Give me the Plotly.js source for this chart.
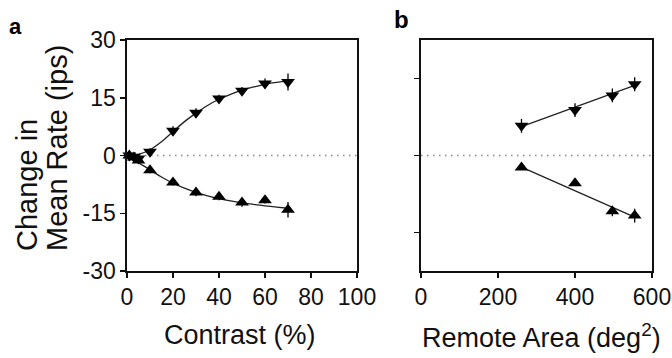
<!DOCTYPE html>
<html>
<head>
<meta charset="utf-8">
<script src="https://cdn.plot.ly/plotly-3.0.1.min.js"></script>
<style>html,body{margin:0;padding:0;background:#fff;}#chart{width:672px;height:358px;}</style>
</head>
<body>
<div id="chart"></div>
<script>
// Panel a: contrast (%)
const contrast = [1, 3, 5, 10, 20, 30, 40, 50, 60, 70];
const aIncrease = [0, -0.3, -0.8, 1.0, 6.4, 11.1, 14.8, 16.8, 18.7, 19.1];
const aIncreaseErr = [0.5, 0.5, 0.6, 0.9, 1.2, 1.2, 1.0, 1.0, 1.3, 2.2];
const aDecrease = [0, -0.5, -1.3, -3.8, -7.0, -9.6, -10.7, -12.2, -11.6, -14.1];
const aDecreaseErr = [0.4, 0.5, 0.6, 0.8, 0.8, 1.0, 0.9, 1.1, 0.9, 2.0];
const fitContrast = [0, 5, 10, 15, 20, 25, 30, 35, 40, 45, 50, 55, 60, 65, 70];
const fitIncrease = [0, 0.3, 1.5, 3.6, 6.2, 8.8, 11.0, 13.0, 14.6, 15.9, 17.0, 17.8, 18.5, 19.0, 19.3];
const fitDecrease = [0, -1.9, -3.7, -5.6, -7.2, -8.5, -9.6, -10.5, -11.2, -11.8, -12.3, -12.7, -13.1, -13.4, -13.7];

// Panel b: remote area (deg^2)
const area = [261, 400, 497, 555];
const bIncrease = [7.7, 11.8, 15.6, 18.5];
const bIncreaseErr = [1.8, 1.8, 1.8, 1.8];
const bDecrease = [-3.1, -7.2, -14.5, -15.6];
const bDecreaseErr = [0.6, 0.6, 1.3, 1.8];
const fitArea = [261, 555];
const bFitIncrease = [7.5, 18.2];
const bFitDecrease = [-3.0, -16.0];

const xTicksA = [0, 20, 40, 60, 80, 100];
const yTicksA = [-30, -15, 0, 15, 30];
const xTicksB = [0, 200, 400, 600];
const yTicksB = [-20, 0, 20];

const W = 672, H = 358;
const px = v => v / W, py = v => 1 - v / H;

function pts(x, y, err, sym, xa, ya) {
  return {x: x, y: y, type: 'scatter', mode: 'markers', xaxis: xa, yaxis: ya,
    marker: {symbol: sym, size: 12, color: '#000'},
    error_y: {type: 'data', array: err, visible: true, color: '#000', thickness: 1.3, width: 0},
    hoverinfo: 'skip', showlegend: false, cliponaxis: false};
}
function fit(x, y, xa, ya, shape) {
  return {x: x, y: y, type: 'scatter', mode: 'lines', xaxis: xa, yaxis: ya,
    line: {color: '#222', width: 1.3, shape: shape, smoothing: 1},
    hoverinfo: 'skip', showlegend: false};
}

const data = [
  fit(fitContrast, fitIncrease, 'x', 'y', 'spline'),
  fit(fitContrast, fitDecrease, 'x', 'y', 'spline'),
  pts(contrast, aIncrease, aIncreaseErr, 'triangle-down', 'x', 'y'),
  pts(contrast, aDecrease, aDecreaseErr, 'triangle-up', 'x', 'y'),
  fit(fitArea, bFitIncrease, 'x2', 'y2', 'linear'),
  fit(fitArea, bFitDecrease, 'x2', 'y2', 'linear'),
  pts(area, bIncrease, bIncreaseErr, 'triangle-down', 'x2', 'y2'),
  pts(area, bDecrease, bDecreaseErr, 'triangle-up', 'x2', 'y2')
];

const fontF = 'Liberation Sans, Arial, sans-serif';
const axisCommon = {showline: true, linecolor: '#111', linewidth: 1.6, mirror: true,
  ticks: 'outside', ticklen: 5, tickwidth: 1.5, tickcolor: '#111', showgrid: false, zeroline: false,
  tickfont: {family: fontF, size: 23, color: '#111'}, fixedrange: true, ticklabeloverflow: 'allow'};
const yDom = [py(271), py(40)];

const layout = {
  width: W, height: H, margin: {l: 0, r: 0, t: 0, b: 0},
  paper_bgcolor: '#fff', plot_bgcolor: '#fff', showlegend: false,
  xaxis: Object.assign({}, axisCommon, {domain: [px(127), px(357)], range: [0, 100], tickvals: xTicksA, ticktext: xTicksA.map(String), anchor: 'y'}),
  yaxis: Object.assign({}, axisCommon, {domain: yDom, range: [-30, 30], tickvals: yTicksA, ticktext: yTicksA.map(String), anchor: 'x'}),
  xaxis2: Object.assign({}, axisCommon, {domain: [px(421), px(652)], range: [0, 600], tickvals: xTicksB, ticktext: xTicksB.map(String), anchor: 'y2'}),
  yaxis2: Object.assign({}, axisCommon, {domain: yDom, range: [-30, 30], tickvals: yTicksB, showticklabels: false, anchor: 'x2'}),
  shapes: [
    {type: 'line', xref: 'x', yref: 'y', x0: 0, x1: 100, y0: 0, y1: 0, line: {color: '#888', width: 1.5, dash: '1.5px,4.5px'}, layer: 'below'},
    {type: 'line', xref: 'x2', yref: 'y2', x0: 0, x1: 600, y0: 0, y1: 0, line: {color: '#888', width: 1.5, dash: '1.5px,4.5px'}, layer: 'below'}
  ],
  annotations: [
    {text: '<b>a</b>', xref: 'paper', yref: 'paper', x: px(7), y: py(12), xanchor: 'left', yanchor: 'top', showarrow: false, font: {family: fontF, size: 22, color: '#000'}},
    {text: '<b>b</b>', xref: 'paper', yref: 'paper', x: px(392), y: py(4), xanchor: 'left', yanchor: 'top', showarrow: false, font: {family: fontF, size: 24, color: '#000'}},
    {text: 'Change in', xref: 'paper', yref: 'paper', x: px(27), y: py(253), xanchor: 'center', yanchor: 'bottom', textangle: -90, showarrow: false, font: {family: fontF, size: 29, color: '#111'}},
    {text: 'Mean Rate (ips)', xref: 'paper', yref: 'paper', x: px(57), y: py(253), xanchor: 'center', yanchor: 'bottom', textangle: -90, showarrow: false, font: {family: fontF, size: 29, color: '#111'}},
    {text: 'Contrast (%)', xref: 'paper', yref: 'paper', x: px(240), y: py(335), xanchor: 'center', yanchor: 'middle', showarrow: false, font: {family: fontF, size: 27, color: '#111'}},
    {text: 'Remote Area (deg<sup>2</sup>)', xref: 'paper', yref: 'paper', x: px(541), y: py(355), xanchor: 'center', yanchor: 'bottom', showarrow: false, font: {family: fontF, size: 27, color: '#111'}}
  ]
};

Plotly.newPlot('chart', data, layout, {staticPlot: true, displayModeBar: false});
</script>
</body>
</html>
